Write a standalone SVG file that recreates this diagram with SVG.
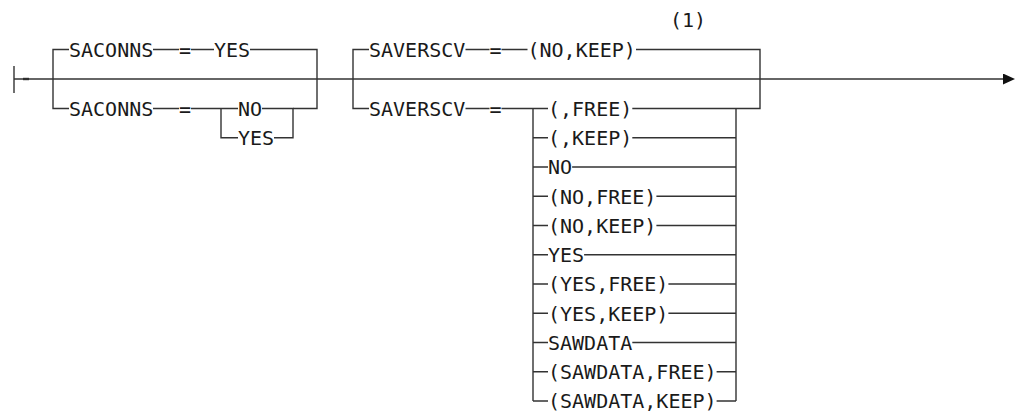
<svg xmlns="http://www.w3.org/2000/svg" width="1017" height="418" viewBox="0 0 1017 418">
<style>
  .t { font-family: "DejaVu Sans Mono", "Liberation Mono", monospace; font-size: 20px; fill: #1a1a1a; }
  .c { fill: none; stroke: #333; stroke-width: 1.4; }
</style>
<defs>
  <marker id="arrow" markerUnits="userSpaceOnUse" markerWidth="12" markerHeight="11" refX="0" refY="5.5" orient="auto">
    <path d="M0,0 L12,5.5 L0,11 z" fill="#111"/>
  </marker>
</defs>
<rect width="1017" height="418" fill="#fff"/>
<g id="connectors">
  <path class="c" d="M14,66 V93"/>
  <path d="M23,79 H29" stroke="#222" stroke-width="2.4" fill="none"/>
  <path class="c" d="M14,79 H1003" marker-end="url(#arrow)"/>
  <!-- SACONNS box -->
  <path class="c" d="M69,49.5 H53 V108.5 H69"/>
  <path class="c" d="M153,49.5 H179 M191,49.5 H214 M250,49.5 H317 V108.5 H293"/>
  <path class="c" d="M153,108.5 H179 M191,108.5 H238 M221,108.5 V137.75 H238 M262,108.5 H293 V137.75 H274"/>
  <!-- SAVERSCV box -->
  <path class="c" d="M369,49.5 H353 V108.5 H369"/>
  <path class="c" d="M465.5,49.5 H489.5 M501.5,49.5 H527.5 M636,49.5 H760 V108.5 H632.3"/>
  <path class="c" d="M465.5,108.5 H489.5 M501.5,108.5 H548"/>
  <path class="c" d="M533,108.5 V401 M533,137.75 H548 M533,167 H548 M533,196.25 H548 M533,225.5 H548 M533,254.75 H548 M533,284 H548 M533,313.25 H548 M533,342.5 H548 M533,371.75 H548 M533,401 H548"/>
  <path class="c" d="M736,108.5 V401 M632.3,137.75 H736 M572.1,167 H736 M656.4,196.25 H736 M656.4,225.5 H736 M584.1,254.75 H736 M668.4,284 H736 M668.4,313.25 H736 M632.3,342.5 H736 M716.6,371.75 H736 M716.6,401 H736"/>
</g>
<g id="saconns-yes">
  <text class="t" x="69" y="56.9">SACONNS</text>
  <text class="t" x="179" y="56.9">=</text>
  <text class="t" x="214" y="56.9">YES</text>
</g>
<g id="saconns-choice">
  <text class="t" x="69" y="115.9">SACONNS</text>
  <text class="t" x="179" y="115.9">=</text>
  <text class="t" x="238" y="115.9">NO</text>
  <text class="t" x="238" y="145.15">YES</text>
</g>
<g id="note-1">
  <text class="t" x="670" y="26.5">(1)</text>
</g>
<g id="saverscv-default">
  <text class="t" x="369" y="56.9">SAVERSCV</text>
  <text class="t" x="489.5" y="56.9">=</text>
  <text class="t" x="527.5" y="56.9">(NO,KEEP)</text>
</g>
<g id="saverscv-choice">
  <text class="t" x="369" y="115.9">SAVERSCV</text>
  <text class="t" x="489.5" y="115.9">=</text>
  <text class="t" x="548" y="115.9">(,FREE)</text>
  <text class="t" x="548" y="145.15">(,KEEP)</text>
  <text class="t" x="548" y="174.4">NO</text>
  <text class="t" x="548" y="203.65">(NO,FREE)</text>
  <text class="t" x="548" y="232.9">(NO,KEEP)</text>
  <text class="t" x="548" y="262.15">YES</text>
  <text class="t" x="548" y="291.4">(YES,FREE)</text>
  <text class="t" x="548" y="320.65">(YES,KEEP)</text>
  <text class="t" x="548" y="349.9">SAWDATA</text>
  <text class="t" x="548" y="379.15">(SAWDATA,FREE)</text>
  <text class="t" x="548" y="408.4">(SAWDATA,KEEP)</text>
</g>
</svg>
